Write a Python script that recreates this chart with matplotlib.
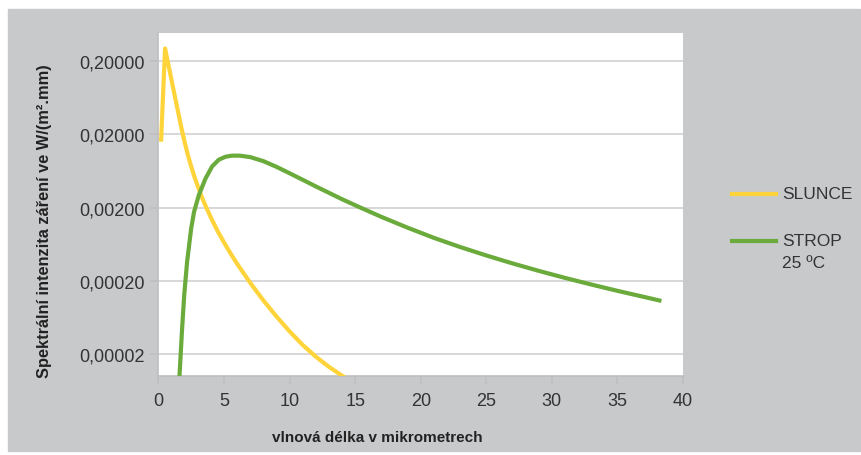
import numpy as np
import matplotlib
matplotlib.use("Agg")
import matplotlib.pyplot as plt
from matplotlib.lines import Line2D
from matplotlib.patches import Rectangle

plt.rcParams['font.family'] = ['Liberation Sans', 'DejaVu Sans']

# SLUNCE (sun)
sun_x = [0.2, 0.5, 0.75, 1.0, 1.25, 1.5, 1.75, 2.0, 2.25, 2.5, 2.75, 3.0, 3.25, 3.5, 4.0,
         4.5, 5.0, 5.5, 6.0, 7.0, 8.0, 9.0, 10.0, 11.0, 12.0, 13.0, 14.0, 14.5]
sun_y = [0.017, 0.30, 0.182, 0.11, 0.066, 0.0403, 0.0245, 0.0155, 0.01035, 0.00724, 0.00522,
         0.00389, 0.00295, 0.00229, 0.00145, 9.6e-4, 6.64e-4, 4.7e-4, 3.39e-4, 1.86e-4,
         1.07e-4, 6.46e-5, 4.03e-5, 2.63e-5, 1.82e-5, 1.32e-5, 1.0e-5, 8.7e-6]

# STROP 25 °C (ceiling)
strop_x = [1.5, 1.6, 1.8, 1.96, 2.18, 2.49, 2.71, 3.07, 3.58, 4.09, 4.6, 5.1, 5.6, 6.2, 7.0,
           8.0, 9.0, 10.0, 11.0, 12.0, 13.0, 14.0, 15.39, 17, 19, 21, 23, 25, 27, 29, 31, 33,
           35, 37, 38.2]
strop_y = [6e-6, 1e-5, 4.4e-5, 1.26e-4, 3.6e-4, 1.03e-3, 1.74e-3, 2.94e-3, 4.97e-3, 7.31e-3,
           9.04e-3, 9.9e-3, 1.026e-2, 1.026e-2, 9.8e-3, 8.63e-3, 7.21e-3, 5.89e-3, 4.79e-3,
           3.89e-3, 3.18e-3, 2.6e-3, 2.0e-3, 1.49e-3, 1.06e-3, 7.7e-4, 5.77e-4, 4.42e-4,
           3.44e-4, 2.72e-4, 2.18e-4, 1.77e-4, 1.45e-4, 1.2e-4, 1.07e-4]

yticks = [0.00002, 0.0002, 0.002, 0.02, 0.2]
xticks = [0, 5, 10, 15, 20, 25, 30, 35, 40]

W, H = 862, 456
fig = plt.figure(figsize=(W / 100, H / 100), dpi=100, facecolor='white')
# gray chart area
fig.patches.append(Rectangle((8 / W, 1 - 452 / H), 852 / W, 442 / H,
                             transform=fig.transFigure, color='#c8c9cb', zorder=-10))

ax = fig.add_axes([158.5 / W, 1 - 376.7 / H, (683 - 158.5) / W, (376.7 - 33.7) / H])
ax.set_facecolor('white')
ax.set_yscale('log')
ax.set_xlim(0, 40)
ax.set_ylim(1e-5, 0.494)

ax.plot(sun_x, sun_y, color='#ffd43a', lw=3.0, solid_joinstyle='round', zorder=3)
ax.plot(strop_x, strop_y, color='#6aab3b', lw=3.0, solid_joinstyle='round', zorder=3)

ax.set_yticks(yticks)
ax.set_yticklabels([f"{v:.5f}".replace('.', ',') for v in yticks])
ax.yaxis.set_minor_locator(matplotlib.ticker.NullLocator())
ax.set_xticks(xticks)
ax.grid(axis='y', color='#d4d4d4', lw=1.3)
ax.set_axisbelow(True)

for s in ['top', 'right']:
    ax.spines[s].set_visible(False)
for s in ['left', 'bottom']:
    ax.spines[s].set_color('#bfbfbf')
    ax.spines[s].set_linewidth(1.2)
ax.tick_params(axis='both', colors='#bfbfbf', length=6, width=1.2, labelsize=13,
               labelcolor='#333333')
ax.tick_params(axis='x', pad=6)
ax.tick_params(axis='y', pad=4)

fig.text(377 / W, 1 - 438 / H, 'vlnová délka v mikrometrech', ha='center', va='center',
         fontsize=11, fontweight='bold', color='#222222')
fig.text(45 / W, 1 - 221.5 / H, 'Spektrální intenzita záření ve W/(m².mm)', ha='center',
         va='center', rotation=90, fontsize=11.8, fontweight='bold', color='#222222')

# legend
fig.add_artist(Line2D([732 / W, 776 / W], [1 - 195 / H] * 2, color='#ffd43a', lw=3.0,
                      transform=fig.transFigure))
fig.add_artist(Line2D([732 / W, 776 / W], [1 - 242 / H] * 2, color='#6aab3b', lw=3.0,
                      transform=fig.transFigure))
fig.text(782 / W, 1 - 195 / H, 'SLUNCE', va='center', fontsize=12.5, color='#333333')
fig.text(782 / W, 1 - 242 / H, 'STROP', va='center', fontsize=12.5, color='#333333')
fig.text(782 / W, 1 - 264 / H, '25 ºC', va='center', fontsize=12.5, color='#333333')

fig.savefig('out.png', dpi=100, facecolor='white')
